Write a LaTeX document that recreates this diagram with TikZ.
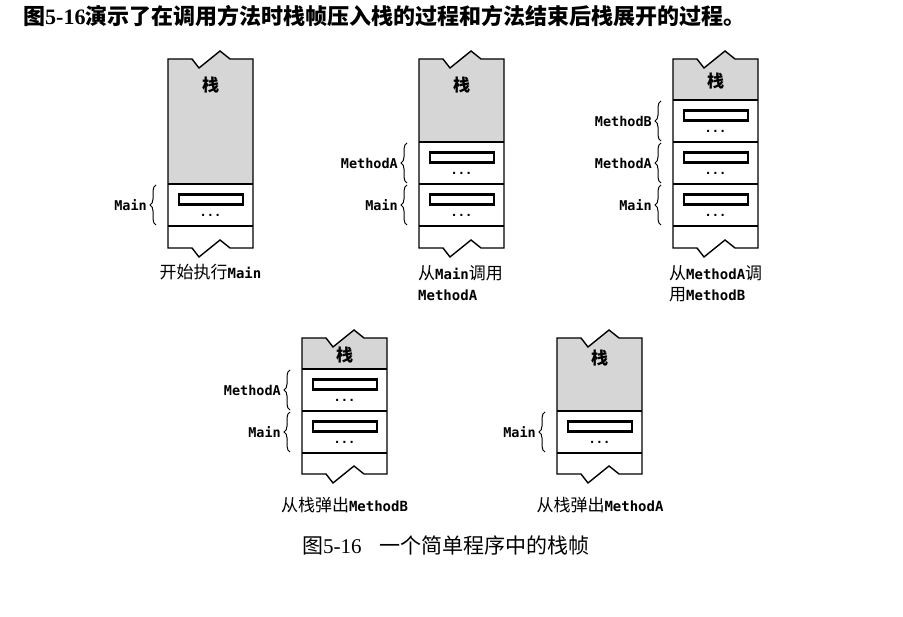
\documentclass[tikz,border=0pt]{standalone}
\usepackage{fontspec}
\usepackage{tikz}
\usetikzlibrary{decorations.pathreplacing}
\newfontfamily\cjk{Noto Sans CJK SC}
\newfontfamily\mono{DejaVu Sans Mono}
\newfontfamily\romanfigs{Liberation Serif}
\newcommand\codetxt[1]{{\mono\bfseries\fontsize{14}{21}\selectfont #1}}

\begin{document}
\begin{tikzpicture}[x=1pt, y=-1pt,
	stackline/.style={line width=1.4pt, line join=miter},
	stackgray/.style={fill=black!16},
	slot/.style={draw, line width=2.2pt},
	zigtop/.style={insert path={-- ++(24,0) -- ++(7,9) -- ++(21,-17) -- ++(10,8) -- ++(23,0)}},
	zigbot/.style={insert path={-- ++(-23,0) -- ++(-10,-8) -- ++(-21,17) -- ++(-7,-9) -- ++(-24,0)}},
	framebrace/.style={decorate, decoration={brace, amplitude=6pt}, line width=1pt},
	framelbl/.style={anchor=east, inner sep=0pt, font=\mono\bfseries\fontsize{13.5}{14}\selectfont},
	dotsmark/.style={anchor=base, inner sep=0pt, font=\mono\bfseries\fontsize{12}{12}\selectfont},
	stacktext/.style={inner sep=0pt, font=\cjk\bfseries\fontsize{17}{18}\selectfont},
	captext/.style={inner sep=0pt, font=\cjk\fontsize{17}{21}\selectfont}]

	\fill[white] (0,0) rectangle (903,617);
	\useasboundingbox (0,0) rectangle (903,617);

	\node[anchor=west, inner sep=0pt, font=\cjk\bfseries\fontsize{22}{24}\selectfont] (title) at (23,16)
		{图{\romanfigs\bfseries 5-16}演示了在调用方法时栈帧压入栈的过程和方法结束后栈展开的过程。};

	% 开始执行Main
	\fill[stackgray] (168,59) [zigtop] -- (253,184) -- (168,184) -- cycle;
	\draw[stackline] (168,59) [zigtop] -- (253,248) [zigbot] -- cycle;
	\draw[stackline] (168,184) -- (253,184) (168,226) -- (253,226);
	\node[stacktext] (stack1) at (210.5,85) {栈};
	\draw[slot] (179,194.5) rectangle (243,204.5);
	\node[dotsmark] (dots1a) at (210.5,217) {...};
	\draw[framebrace] (156,225) -- (156,185);
	\node[framelbl] (main1) at (147,205) {Main};
	\node[captext] (cap1) at (210.5,272) {开始执行\codetxt{Main}};

	% 从Main调用MethodA
	\fill[stackgray] (419,59) [zigtop] -- (504,142) -- (419,142) -- cycle;
	\draw[stackline] (419,59) [zigtop] -- (504,248) [zigbot] -- cycle;
	\draw[stackline] (419,142) -- (504,142) (419,184) -- (504,184) (419,226) -- (504,226);
	\node[stacktext] (stack2) at (461.5,85) {栈};
	\draw[slot] (430,152.5) rectangle (494,162.5);
	\node[dotsmark] (dots2a) at (461.5,175) {...};
	\draw[slot] (430,194.5) rectangle (494,204.5);
	\node[dotsmark] (dots2b) at (461.5,217) {...};
	\draw[framebrace] (407,183) -- (407,143);
	\node[framelbl] (methoda2) at (398,163) {MethodA};
	\draw[framebrace] (407,225) -- (407,185);
	\node[framelbl] (main2) at (398,205) {Main};
	\node[captext, anchor=west, align=left] (cap2) at (418,283.5) {从\codetxt{Main}调用\\\codetxt{MethodA}};

	% 从MethodA调用MethodB
	\fill[stackgray] (673,59) [zigtop] -- (758,100) -- (673,100) -- cycle;
	\draw[stackline] (673,59) [zigtop] -- (758,248) [zigbot] -- cycle;
	\draw[stackline] (673,100) -- (758,100) (673,142) -- (758,142) (673,184) -- (758,184) (673,226) -- (758,226);
	\node[stacktext] (stack3) at (715.5,81) {栈};
	\draw[slot] (684,110.5) rectangle (748,120.5);
	\node[dotsmark] (dots3a) at (715.5,133) {...};
	\draw[slot] (684,152.5) rectangle (748,162.5);
	\node[dotsmark] (dots3b) at (715.5,175) {...};
	\draw[slot] (684,194.5) rectangle (748,204.5);
	\node[dotsmark] (dots3c) at (715.5,217) {...};
	\draw[framebrace] (661,141) -- (661,101);
	\node[framelbl] (methodb3) at (652,121) {MethodB};
	\draw[framebrace] (661,183) -- (661,143);
	\node[framelbl] (methoda3) at (652,163) {MethodA};
	\draw[framebrace] (661,225) -- (661,185);
	\node[framelbl] (main3) at (652,205) {Main};
	\node[captext, anchor=west, align=left] (cap3) at (669,283.5) {从\codetxt{MethodA}调\\用\codetxt{MethodB}};

	% 从栈弹出MethodB
	\fill[stackgray] (302,338) [zigtop] -- (387,369) -- (302,369) -- cycle;
	\draw[stackline] (302,338) [zigtop] -- (387,474) [zigbot] -- cycle;
	\draw[stackline] (302,369) -- (387,369) (302,411) -- (387,411) (302,453) -- (387,453);
	\node[stacktext] (stack4) at (344.5,355) {栈};
	\draw[slot] (313,379.5) rectangle (377,389.5);
	\node[dotsmark] (dots4a) at (344.5,402) {...};
	\draw[slot] (313,421.5) rectangle (377,431.5);
	\node[dotsmark] (dots4b) at (344.5,444) {...};
	\draw[framebrace] (290,410) -- (290,370);
	\node[framelbl] (methoda4) at (281,390) {MethodA};
	\draw[framebrace] (290,452) -- (290,412);
	\node[framelbl] (main4) at (281,432) {Main};
	\node[captext] (cap4) at (344.5,505) {从栈弹出\codetxt{MethodB}};

	% 从栈弹出MethodA
	\fill[stackgray] (557,338) [zigtop] -- (642,411) -- (557,411) -- cycle;
	\draw[stackline] (557,338) [zigtop] -- (642,474) [zigbot] -- cycle;
	\draw[stackline] (557,411) -- (642,411) (557,453) -- (642,453);
	\node[stacktext] (stack5) at (599.5,358) {栈};
	\draw[slot] (568,421.5) rectangle (632,431.5);
	\node[dotsmark] (dots5a) at (599.5,444) {...};
	\draw[framebrace] (545,452) -- (545,412);
	\node[framelbl] (main5) at (536,432) {Main};
	\node[captext] (cap5) at (600,505) {从栈弹出\codetxt{MethodA}};

	\node[anchor=west, inner sep=0pt, font=\cjk\fontsize{21}{24}\selectfont] (figcap) at (302,545)
		{图{\romanfigs 5-16}\hspace{18pt}一个简单程序中的栈帧};
\end{tikzpicture}
\end{document}
